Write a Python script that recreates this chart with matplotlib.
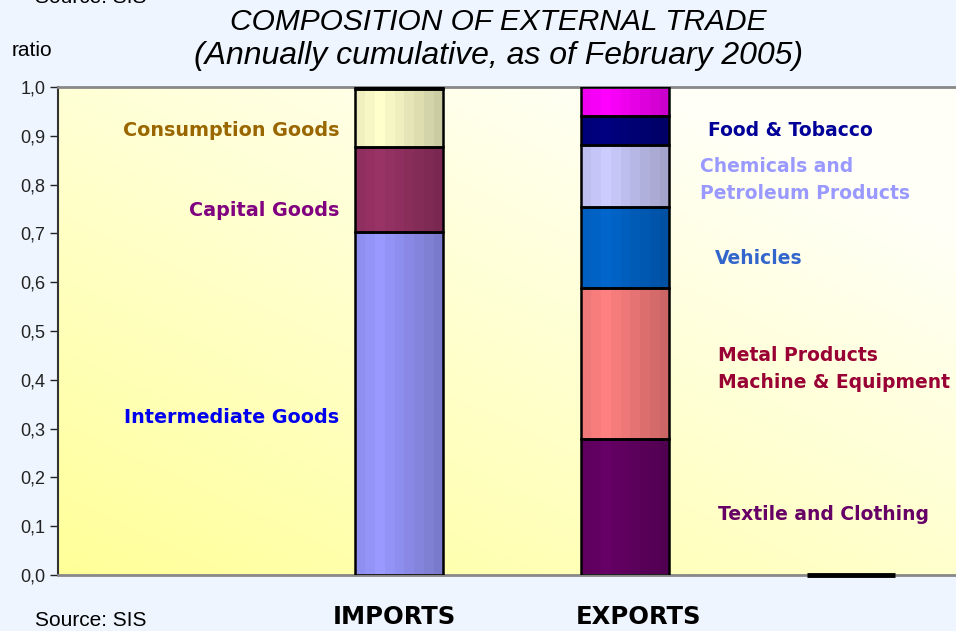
import numpy as np
import matplotlib
matplotlib.use("Agg")
import matplotlib.pyplot as plt
import matplotlib.colors as mcolors
from matplotlib.ticker import FuncFormatter
import matplotlib.transforms as mtransforms

# data (share of total, stacked bottom -> top)
categories = ["", "IMPORTS", "EXPORTS", ""]
import_labels = ["Intermediate Goods", "Capital Goods", "Consumption Goods", "Other"]
import_shares = [0.702, 0.175, 0.118, 0.005]
import_colors = ["#9999FF", "#993366", "#FFFFCC", "#000000"]

export_labels = ["Textile and Clothing", "Metal Products\nMachine & Equipment", "Vehicles",
                 "Chemicals and\nPetroleum Products", "Food & Tobacco", "Other"]
export_shares = [0.279, 0.309, 0.166, 0.127, 0.060, 0.059]
export_colors = ["#660066", "#FF8080", "#0066CC", "#CCCCFF", "#000080", "#FF00FF"]

import_text_colors = ["#0000EE", "#800080", "#996600", None]
export_text_colors = ["#660066", "#990033", "#3366CC", "#9999FF", "#000099", None]

# label anchor positions (layout only)
import_text_pos = [(0.735, 0.322), (0.735, 0.746), (0.735, 0.910)]
export_text_pos = [(2.41, 0.123), (2.41, 0.422), (2.40, 0.648), (2.33, 0.809), (2.367, 0.910)]


def shade_bar(ax, rect, color):
    # vertical stripes, light near the left, darker to the right
    x, y = rect.get_x(), rect.get_y()
    w, h = rect.get_width(), rect.get_height()
    base = np.array(mcolors.to_rgb(color))
    t = np.linspace(0, 1, 9)
    f = np.interp(t, [0, 0.25, 1], [0.94, 1.0, 0.8])
    img = np.clip(base[None, :] * f[:, None], 0, 1)[None, :, :]
    ax.imshow(img, extent=(x, x + w, y, y + h), aspect="auto", zorder=2,
              interpolation="nearest")


fig = plt.figure(figsize=(9.56, 6.31), dpi=100, facecolor="#EEF5FF")
ax = fig.add_axes([58 / 956, 56 / 631, 898 / 956, 488 / 631])

# background gradient, saturated yellow bottom-left to near white top-right
gx, gy = np.meshgrid(np.linspace(0, 1, 200), np.linspace(0, 1, 200))
g = np.clip((gx * 0.6 + gy * 0.7) / 1.1, 0, 1)
c0 = np.array(mcolors.to_rgb("#FFFF99"))
c1 = np.array(mcolors.to_rgb("#FFFFF8"))
bg = c0[None, None, :] * (1 - g[..., None]) + c1[None, None, :] * g[..., None]
ax.imshow(bg, extent=(0, 1, 0, 1), transform=ax.transAxes, origin="lower",
          aspect="auto", zorder=0)

width = 0.39
bottom = 0
for share, col in zip(import_shares, import_colors):
    b = ax.bar(1, share, width, bottom=bottom, facecolor="none", edgecolor="black",
               linewidth=1.8, zorder=3)
    shade_bar(ax, b.patches[0], col)
    bottom += share

bottom = 0
for share, col in zip(export_shares, export_colors):
    b = ax.bar(2, share, width, bottom=bottom, facecolor="none", edgecolor="black",
               linewidth=1.8, zorder=3)
    shade_bar(ax, b.patches[0], col)
    bottom += share

# empty third column
ax.bar(3, 0, width, facecolor="none", edgecolor="black", linewidth=3.5, zorder=5,
       clip_on=False)

ax.set_xlim(-0.509, 3.465)
ax.set_ylim(0, 1.0)

for lab, col, (x, y) in zip(import_labels, import_text_colors, import_text_pos):
    ax.text(x, y, lab, ha="right", va="center", color=col, fontsize=13.8,
            fontweight="bold", family="DejaVu Sans", zorder=4)
for lab, col, (x, y) in zip(export_labels, export_text_colors, export_text_pos):
    ax.text(x, y, lab, ha="left", va="center", color=col, fontsize=13.5,
            fontweight="bold", family="DejaVu Sans", linespacing=1.5, zorder=4)

ax.set_yticks(np.arange(0, 1.01, 0.1))
ax.yaxis.set_major_formatter(FuncFormatter(lambda v, p: f"{v:.1f}".replace(".", ",")))
ax.tick_params(axis="y", length=6, width=1, colors="#222222", labelsize=13, pad=3)
for lbl in ax.get_yticklabels():
    lbl.set_family("Liberation Sans")
ax.set_xticks([])

ax.spines["left"].set_color("#333333")
ax.spines["left"].set_linewidth(1.5)
ax.spines["bottom"].set_color("#888888")
ax.spines["bottom"].set_linewidth(2)
ax.spines["top"].set_color("#888888")
ax.spines["top"].set_linewidth(2)
ax.spines["right"].set_visible(False)

trans = mtransforms.blended_transform_factory(ax.transData, fig.transFigure)
for x, name in zip([0.98, 2.06], ["IMPORTS", "EXPORTS"]):
    ax.text(x, 1 - 617 / 631, name, transform=trans, ha="center", va="center",
            fontsize=17.5, fontweight="bold", family="DejaVu Sans", clip_on=False)

fig.text(0.521, 1 - 22 / 631, "COMPOSITION OF EXTERNAL TRADE", ha="center", va="center",
         fontsize=21.5, style="italic", family="Liberation Sans")
fig.text(0.521, 1 - 56 / 631, "(Annually cumulative, as of February 2005)", ha="center",
         va="center", fontsize=23, style="italic", family="Liberation Sans")
fig.text(12 / 956, 1 - 50 / 631, "ratio", ha="left", va="center", fontsize=15,
         family="Liberation Sans")
fig.text(35 / 956, 1 - 621 / 631, "Source: SIS", ha="left", va="center", fontsize=15,
         family="Liberation Sans")
fig.text(35 / 956, 1 - 3 / 631, "Source: SIS", ha="left", va="baseline", fontsize=15,
         family="Liberation Sans")

fig.savefig("out.png", dpi=100, facecolor=fig.get_facecolor())
